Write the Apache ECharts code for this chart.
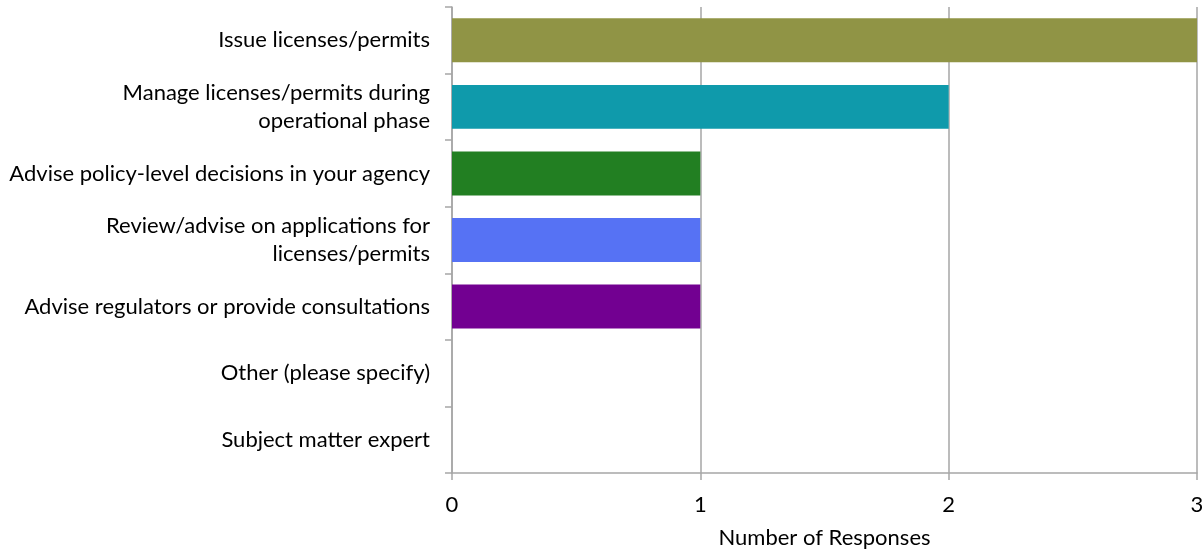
<!DOCTYPE html>
<html>
<head>
<meta charset="utf-8">
<script src="https://cdn.jsdelivr.net/npm/echarts@6/dist/echarts.min.js"></script>
<style>
html,body{margin:0;padding:0;background:#fff;}
#chart{width:1204px;height:552px;}
</style>
</head>
<body>
<div id="chart"></div>
<script>
// Roles held by respondents, top to bottom
const categories = [
  'Issue licenses/permits',
  'Manage licenses/permits during\noperational phase',
  'Advise policy-level decisions in your agency',
  'Review/advise on applications for\nlicenses/permits',
  'Advise regulators or provide consultations',
  'Other (please specify)',
  'Subject matter expert'
];
const responses = [3, 2, 1, 1, 1, 0, 0];
const barColors = ['#909445', '#0F9AAB', '#227F22', '#5672F4', '#720091', '#999999', '#999999'];
const xTicks = [0, 1, 2, 3];

const font = "Lato, 'Open Sans', sans-serif";
const chart = echarts.init(document.getElementById('chart'));
chart.setOption({
  animation: false,
  grid: { left: 452, right: 7, top: 7, bottom: 79, containLabel: false, outerBoundsMode: 'none' },
  xAxis: {
    type: 'value',
    min: xTicks[0],
    max: xTicks[xTicks.length - 1],
    interval: 1,
    name: 'Number of Responses',
    nameLocation: 'middle',
    nameGap: 54,
    nameTextStyle: { fontFamily: font, fontSize: 22, color: '#000' },
    axisLine: { show: true, lineStyle: { color: '#A6A6A6', width: 1.5 } },
    axisTick: { show: true, length: 7, lineStyle: { color: '#A6A6A6', width: 1.5 } },
    axisLabel: { fontFamily: font, fontSize: 22, color: '#000', margin: 21 },
    splitLine: { show: true, lineStyle: { color: '#A6A6A6', width: 1.5 } }
  },
  yAxis: {
    type: 'category',
    data: categories,
    inverse: true,
    axisLine: { show: true, lineStyle: { color: '#A6A6A6', width: 1.5 } },
    axisTick: { show: true, length: 7, alignWithLabel: false, lineStyle: { color: '#A6A6A6', width: 1.5 } },
    axisLabel: {
      fontFamily: font, fontSize: 22, color: '#000', margin: 22,
      align: 'right', lineHeight: 28
    }
  },
  series: [{
    type: 'bar',
    data: responses.map((v, i) => ({ value: v, itemStyle: { color: barColors[i] } })),
    barCategoryGap: '34%'
  }]
});
</script>
</body>
</html>
